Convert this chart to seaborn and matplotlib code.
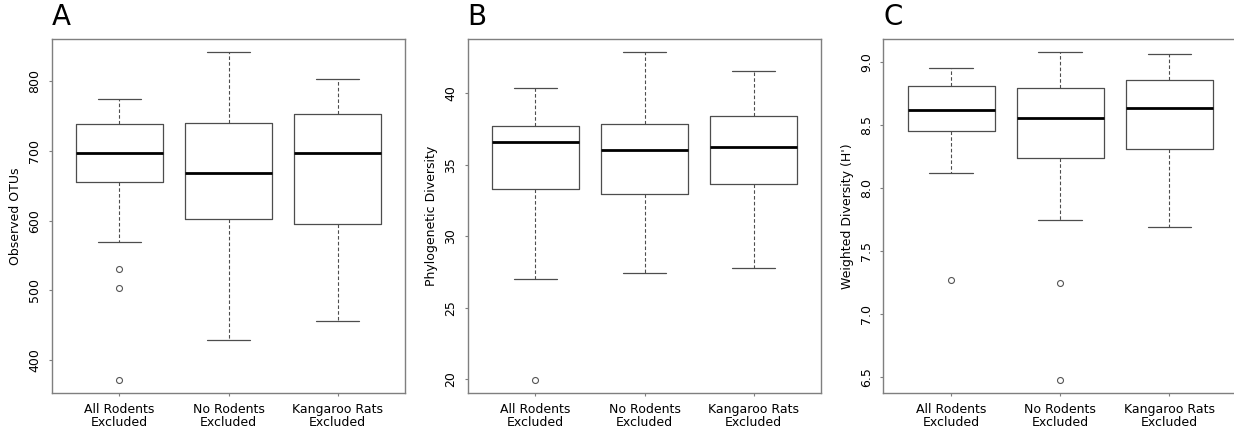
import numpy as np
import pandas as pd
import matplotlib
matplotlib.use("Agg")
import matplotlib.pyplot as plt
import seaborn as sns

# ---------------- data ----------------
groups = ["All Rodents\nExcluded", "No Rodents\nExcluded", "Kangaroo Rats\nExcluded"]

# Panel A: Observed OTUs
otu_lo = [570, 428, 456]
otu_q1 = [656, 603, 595]
otu_med = [697, 668, 697]
otu_q3 = [739, 740, 753]
otu_hi = [775, 842, 804]
otu_out = [[531, 503, 371], [], []]

# Panel B: Phylogenetic Diversity
pd_lo = [27.03, 27.43, 27.76]
pd_q1 = [33.29, 32.94, 33.66]
pd_med = [36.60, 36.03, 36.27]
pd_q3 = [37.69, 37.87, 38.41]
pd_hi = [40.35, 42.89, 41.58]
pd_out = [[19.95], [], []]

# Panel C: Weighted Diversity (H')
wd_lo = [8.118, 7.744, 7.690]
wd_q1 = [8.456, 8.239, 8.316]
wd_med = [8.621, 8.555, 8.634]
wd_q3 = [8.812, 8.800, 8.857]
wd_hi = [8.952, 9.082, 9.064]
wd_out = [[7.27], [7.246, 6.475], []]

panel_letters = ["A", "B", "C"]
ylabels = ["Observed OTUs", "Phylogenetic Diversity", "Weighted Diversity (H')"]
yticks_A = [400, 500, 600, 700, 800]
yticks_B = [20, 25, 30, 35, 40]
yticks_C = [6.5, 7.0, 7.5, 8.0, 8.5, 9.0]

# ---------------- style ----------------
sns.set_theme(style="white")
plt.rcParams["font.family"] = ["DejaVu Sans"]

W, H = 1234, 433
fig = plt.figure(figsize=(W / 100, H / 100), dpi=100)
fig.patch.set_facecolor("white")

ax_left_px = [51.7, 467.7, 883.5]
ax_w_px = 353.6
ax_top_px, ax_bot_px = 39.0, 393.3

panels = [
    (otu_lo, otu_q1, otu_med, otu_q3, otu_hi, otu_out, yticks_A, "{:.0f}"),
    (pd_lo, pd_q1, pd_med, pd_q3, pd_hi, pd_out, yticks_B, "{:.0f}"),
    (wd_lo, wd_q1, wd_med, wd_q3, wd_hi, wd_out, yticks_C, "{:.1f}"),
]

edge = "#4d4d4d"
frame = "#7f7f7f"

for i, (lo, q1, med, q3, hi, outl, yt, fmt) in enumerate(panels):
    left = ax_left_px[i] / W
    bottom = (H - ax_bot_px) / H
    ax = fig.add_axes([left, bottom, ax_w_px / W, (ax_bot_px - ax_top_px) / H])

    stats = []
    for j, g in enumerate(groups):
        stats.append(dict(label=g, whislo=lo[j], q1=q1[j], med=med[j],
                          q3=q3[j], whishi=hi[j], fliers=outl[j]))
    positions = np.arange(len(groups))
    ax.bxp(stats, positions=positions, widths=0.8, showfliers=True,
           boxprops=dict(color=edge, linewidth=0.9),
           whiskerprops=dict(color=edge, linewidth=0.8, linestyle=(0, (3.2, 2.0))),
           capprops=dict(color=edge, linewidth=0.9),
           capwidths=0.4,
           medianprops=dict(color="black", linewidth=2.0, solid_capstyle="butt"),
           flierprops=dict(marker="o", markersize=4.3, markerfacecolor="none",
                           markeredgecolor="#555555", markeredgewidth=0.8,
                           linestyle="none"))

    # data range with 4% extension (R style)
    allv = list(lo) + list(hi) + [v for o in outl for v in o]
    vmin, vmax = min(allv), max(allv)
    ext = (vmax - vmin) * 0.04
    ax.set_ylim(vmin - ext, vmax + ext)
    ax.set_xlim(-0.62, 2.62)

    ax.set_xticks(positions)
    ax.set_xticklabels(groups, fontsize=9, linespacing=1.05)
    ax.set_yticks(yt)
    ax.set_yticklabels([fmt.format(v) for v in yt], fontsize=9,
                       rotation=90, va="center")
    ax.tick_params(axis="both", which="both", direction="out", length=2.2,
                   width=0.8, color=frame, pad=4.5, labelcolor="black",
                   bottom=True, left=True, top=False, right=False)
    ax.tick_params(axis="y", pad=5.5)

    for s in ax.spines.values():
        s.set_color(frame)
        s.set_linewidth(1.0)
        s.set_visible(True)

    ax.set_ylabel(ylabels[i], fontsize=9, color="black")
    ax.yaxis.set_label_coords(-29.5 / ax_w_px, 0.5)
    ax.grid(False)
    ax.set_facecolor("white")

    fig.text(ax_left_px[i] / W, 1 - 25 / H, panel_letters[i], fontsize=20,
             ha="left", va="baseline", color="black")

fig.savefig("out.png", dpi=100, facecolor="white")
